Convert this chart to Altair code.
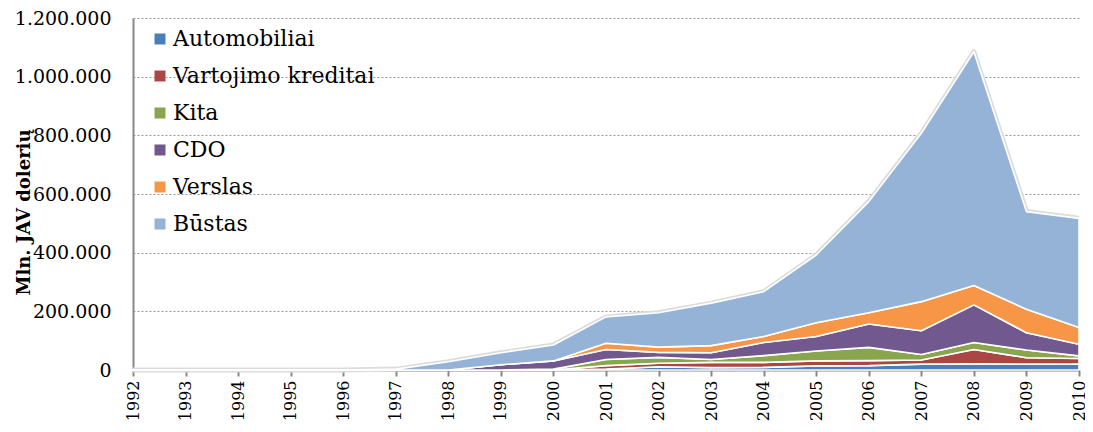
import altair as alt
import pandas as pd

years = list(range(1992, 2011))
series = ["Automobiliai", "Vartojimo kreditai", "Kita", "CDO", "Verslas", "Būstas"]
colors = ["#4A7EBB", "#AA4643", "#89A54E", "#71588F", "#F79646", "#95B3D7"]

automobiliai = [0, 0, 0, 0, 0, 0, 0, 0, 0, 3000, 11000, 8000, 9000, 14000, 15000, 20000, 21000, 20000, 20000]
vartojimo = [0, 0, 0, 0, 0, 0, 0, 0, 0, 12000, 12000, 18000, 17000, 17000, 17000, 14000, 49000, 22000, 19000]
kita = [0, 0, 0, 0, 0, 0, 0, 0, 3000, 21000, 20000, 10000, 23000, 34000, 45000, 19000, 24000, 26000, 9000]
cdo = [0, 0, 0, 0, 0, 0, 0, 18000, 28000, 34000, 17000, 23000, 45000, 49000, 80000, 81000, 128000, 59000, 40000]
verslas = [0, 0, 0, 0, 0, 0, 0, 0, 0, 21000, 18000, 24000, 20000, 47000, 38000, 99000, 66000, 80000, 57000]
bustas = [0, 0, 0, 0, 0, 3000, 28000, 41000, 54000, 90000, 117000, 145000, 153000, 231000, 379000, 574000, 797000, 333000, 372000]

all_vals = [automobiliai, vartojimo, kita, cdo, verslas, bustas]
rows = []
for k, (name, vals) in enumerate(zip(series, all_vals)):
    for i, yr in enumerate(years):
        rows.append({"year": yr, "series": name, "value": vals[i], "ord": k})
df = pd.DataFrame(rows)

FONT = "DejaVu Serif"
TITLE = "Mln. JAV dolerių"

x_enc = alt.X(
    "year:Q",
    title=None,
    scale=alt.Scale(domain=[1992, 2010], nice=False, zero=False),
    axis=alt.Axis(
        values=years, format="d", labelAngle=-90, labelFont=FONT, labelFontSize=16,
        labelColor="black", labelPadding=4, grid=False, domainColor="#888888",
        domainWidth=2, tickColor="#888888", tickWidth=2, tickSize=6,
        labelOverlap=False, labelFlush=False,
    ),
)

y_axis = alt.Axis(
    values=[0, 200000, 400000, 600000, 800000, 1000000, 1200000],
    labelExpr="replace(format(datum.value, ',d'), regexp(',', 'g'), '.')",
    labelFont=FONT, labelFontSize=19, labelColor="black",
    ticks=False, tickSize=0, labelPadding=22, domainColor="#888888", domainWidth=2,
    grid=True, gridDash=[2, 2], gridColor="#9a9a9a", gridWidth=1.2,
    title=TITLE, titleFont=FONT, titleFontSize=18, titleFontWeight="bold",
    titleColor="black", titleX=-109, titleY=194, titleAngle=270,
    titleAlign="center", titleBaseline="middle",
)
y_scale = alt.Scale(domain=[0, 1200000], nice=False)

base = alt.Chart(df)

halo = base.transform_aggregate(
    total="sum(value)", groupby=["year"]
).mark_line(color="#dcdcdc", strokeWidth=5, strokeJoin="round").encode(
    x=x_enc,
    y=alt.Y("total:Q", scale=y_scale, axis=y_axis, title=TITLE),
)

area = base.mark_area(stroke="white", strokeWidth=1.6, strokeJoin="round").encode(
    x=x_enc,
    y=alt.Y("value:Q", stack="zero", scale=y_scale, axis=y_axis, title=TITLE),
    color=alt.Color(
        "series:N",
        scale=alt.Scale(domain=series, range=colors),
        sort=series,
        legend=alt.Legend(
            title=None, orient="none", legendX=16, legendY=10,
            symbolType="square", symbolSize=121, symbolStrokeWidth=0,
            labelFont=FONT, labelFontSize=22, labelColor="black",
            labelOffset=2, rowPadding=15, labelLimit=400,
        ),
    ),
    order=alt.Order("ord:Q", sort="ascending"),
)

chart = alt.layer(halo, area).properties(
    width=946, height=352,
    autosize=alt.AutoSizeParams(type="none"),
    padding={"left": 125, "top": 10, "right": 6, "bottom": 54},
).configure(
    font=FONT,
).configure_view(stroke=None)

chart.save("out.html", embed_options={"renderer": "svg", "actions": False})
